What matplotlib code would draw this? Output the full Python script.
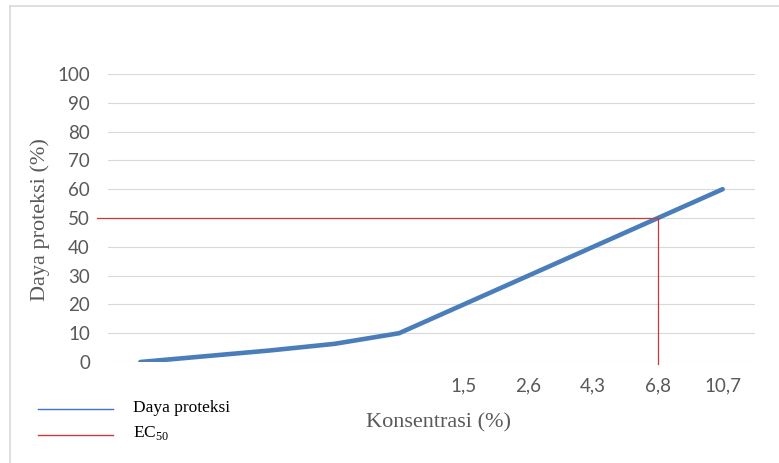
import numpy as np
import matplotlib.pyplot as plt
from matplotlib.lines import Line2D

plt.rcParams["mathtext.fontset"] = "custom"
plt.rcParams["mathtext.rm"] = "Liberation Serif"

# data
konsentrasi = ["", "", "", "", "", "1,5", "2,6", "4,3", "6,8", "10,7"]
daya_proteksi = [0, 2, 4, 6.3, 10, 20, 30, 40, 50, 60]
ec50_value = 50
ec50_label = "6,8"
yticks = np.arange(0, 101, 10)

blue = "#4a7ebb"
red = "#c8393a"
grey = "#595959"

fig = plt.figure(figsize=(7.79, 4.63), dpi=100)
ax = fig.add_axes([108/779, 101/463, 647/779, 288/463])

xs = np.arange(len(konsentrasi))
ax.plot(xs, daya_proteksi, color=blue, lw=3.3, solid_capstyle="round", zorder=3)

# EC50 guide lines
xi = konsentrasi.index(ec50_label)
ax.plot([-0.67, xi], [ec50_value, ec50_value], color=red, lw=0.9, clip_on=False, zorder=4)
ax.plot([xi, xi], [ec50_value, -0.8], color=red, lw=0.9, clip_on=False, zorder=4)

ax.set_xlim(-0.5, len(konsentrasi) - 0.5)
ax.set_ylim(0, 100)
ax.set_yticks(yticks)
ax.set_xticks(xs)
ax.set_xticklabels(konsentrasi)
ax.grid(axis="y", color="#d9d9d9", lw=0.8)
ax.set_axisbelow(True)
for s in ax.spines.values():
    s.set_visible(False)
ax.tick_params(length=0, labelsize=13.5, labelcolor=grey)
ax.tick_params(axis="y", pad=13)
ax.tick_params(axis="x", pad=11)
for lab in ax.get_xticklabels() + ax.get_yticklabels():
    lab.set_family("Lato")

fig.text(40/779, 1 - 220/463, "Daya proteksi (%)", rotation=90, ha="center", va="center",
         family="Liberation Serif", fontsize=16, color=grey)
fig.text(439/779, 1 - 423/463, "Konsentrasi (%)", ha="center", va="center",
         family="Liberation Serif", fontsize=16, color=grey)

# manual legend
fig.add_artist(Line2D([38/779, 113/779], [1 - 409/463, 1 - 409/463], color="#4472c4", lw=1))
fig.add_artist(Line2D([38/779, 113/779], [1 - 435/463, 1 - 435/463], color=red, lw=1))
fig.text(133/779, 1 - 408/463, "Daya proteksi", ha="left", va="center",
         family="Liberation Serif", fontsize=12.5, color="black")
fig.text(133/779, 1 - 433/463, r"EC$_{\mathrm{50}}$", ha="left", va="center",
         family="Liberation Serif", fontsize=12.5, color="black")

# chart frame (top and left only visible)
fig.add_artist(Line2D([9.5/779, 1], [1 - 5.5/463, 1 - 5.5/463], color="#d9d9d9", lw=1.2))
fig.add_artist(Line2D([9.5/779, 9.5/779], [0, 1 - 5.5/463], color="#d9d9d9", lw=1.2))

fig.savefig("out.png", dpi=100)
